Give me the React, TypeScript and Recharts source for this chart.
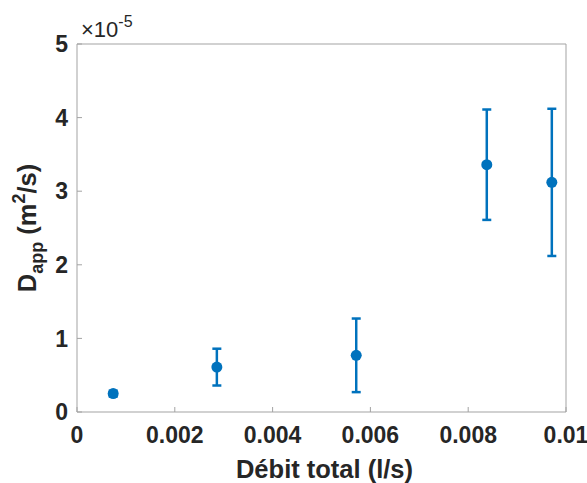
import React from 'react';
import { ScatterChart, Scatter, XAxis, YAxis, ErrorBar } from 'recharts';

// Débit total (l/s)
const debit = [0.00074, 0.00286, 0.00571, 0.00838, 0.00971];
// D_app in units of 1e-5 m²/s, with the half-width of each error bar
const dapp = [0.25, 0.61, 0.77, 3.36, 3.12];
const dappErr = [0.04, 0.25, 0.5, 0.75, 1.0];

const xTicks = [0, 0.002, 0.004, 0.006, 0.008, 0.01];
const yTicks = [0, 1, 2, 3, 4, 5];

const data = debit.map((x, i) => ({ x, y: dapp[i], err: dappErr[i] }));

const FONT = "'Liberation Sans', Arial, Helvetica, sans-serif";
const BLUE = '#0072BD';
const AXIS = '#a3a3a3';
const TEXT = '#262626';

const tickStyle = { fill: TEXT, fontSize: 23, fontWeight: 'bold', fontFamily: FONT };

// inward tick marks on the top and right edges of the box
const TopTick = ({ x, y }: any) => (
  <line x1={x} x2={x} y1={y} y2={y - 5} stroke={AXIS} />
);
const RightTick = ({ x, y }: any) => (
  <line x1={x} x2={x + 5} y1={y} y2={y} stroke={AXIS} />
);

const XLabel = ({ viewBox }: any) => (
  <text
    x={viewBox.x + viewBox.width / 2 + 3}
    y={478}
    textAnchor="middle"
    fill={TEXT}
    fontSize={25.5}
    fontWeight="bold"
    fontFamily={FONT}
  >
    Débit total (l/s)
  </text>
);

// y label plus the MATLAB-style "×10^-5" exponent above the axis
const YLabel = ({ viewBox }: any) => {
  const cx = 36;
  const cy = viewBox.y + viewBox.height / 2;
  return (
    <g>
      <text
        x={cx}
        y={cy}
        transform={`rotate(-90 ${cx} ${cy})`}
        textAnchor="middle"
        fill={TEXT}
        fontSize={25.5}
        fontWeight="bold"
        fontFamily={FONT}
      >
        D
        <tspan fontSize={18} dy={7}>app</tspan>
        <tspan dy={-7}> (m</tspan>
        <tspan fontSize={18} dy={-11}>2</tspan>
        <tspan dy={11}>/s)</tspan>
      </text>
      <text
        x={viewBox.x + viewBox.width + 4}
        y={viewBox.y - 7}
        fill={TEXT}
        fontSize={22}
        fontFamily={FONT}
      >
        ×10
        <tspan fontSize={16} dy={-10}>-5</tspan>
      </text>
    </g>
  );
};

const Dot = (p: any) => <circle cx={p.cx} cy={p.cy} r={5.5} fill={BLUE} />;

export default function App() {
  return (
    <div style={{ position: 'absolute', left: 0, top: 0, background: '#fff' }}>
      <ScatterChart
        width={587}
        height={483}
        margin={{ top: 43, right: 20, bottom: 0, left: 0 }}
      >
        <XAxis
          xAxisId="bottom"
          type="number"
          dataKey="x"
          domain={[0, 0.01]}
          ticks={xTicks}
          interval={0}
          height={71}
          stroke={AXIS}
          tickSize={-5}
          tickMargin={20}
          tick={tickStyle}
          label={{ content: XLabel }}
        />
        <XAxis
          xAxisId="top"
          orientation="top"
          type="number"
          dataKey="x"
          domain={[0, 0.01]}
          ticks={xTicks}
          interval={0}
          height={1}
          stroke={AXIS}
          tickSize={-5}
          tickMargin={0}
          tickLine={false}
          tick={TopTick}
        />
        <YAxis
          yAxisId="left"
          type="number"
          dataKey="y"
          domain={[0, 5]}
          ticks={yTicks}
          interval={0}
          width={77}
          stroke={AXIS}
          tickSize={-5}
          tickMargin={14}
          tick={tickStyle}
          label={{ content: YLabel }}
        />
        <YAxis
          yAxisId="right"
          orientation="right"
          type="number"
          dataKey="y"
          domain={[0, 5]}
          ticks={yTicks}
          interval={0}
          width={1}
          stroke={AXIS}
          tickSize={-5}
          tickMargin={0}
          tickLine={false}
          tick={RightTick}
        />
        <Scatter
          data={data}
          xAxisId="bottom"
          yAxisId="left"
          fill={BLUE}
          shape={Dot}
          isAnimationActive={false}
        >
          <ErrorBar
            dataKey="err"
            direction="y"
            width={4.5}
            strokeWidth={2.5}
            stroke={BLUE}
            isAnimationActive={false}
          />
        </Scatter>
      </ScatterChart>
    </div>
  );
}
